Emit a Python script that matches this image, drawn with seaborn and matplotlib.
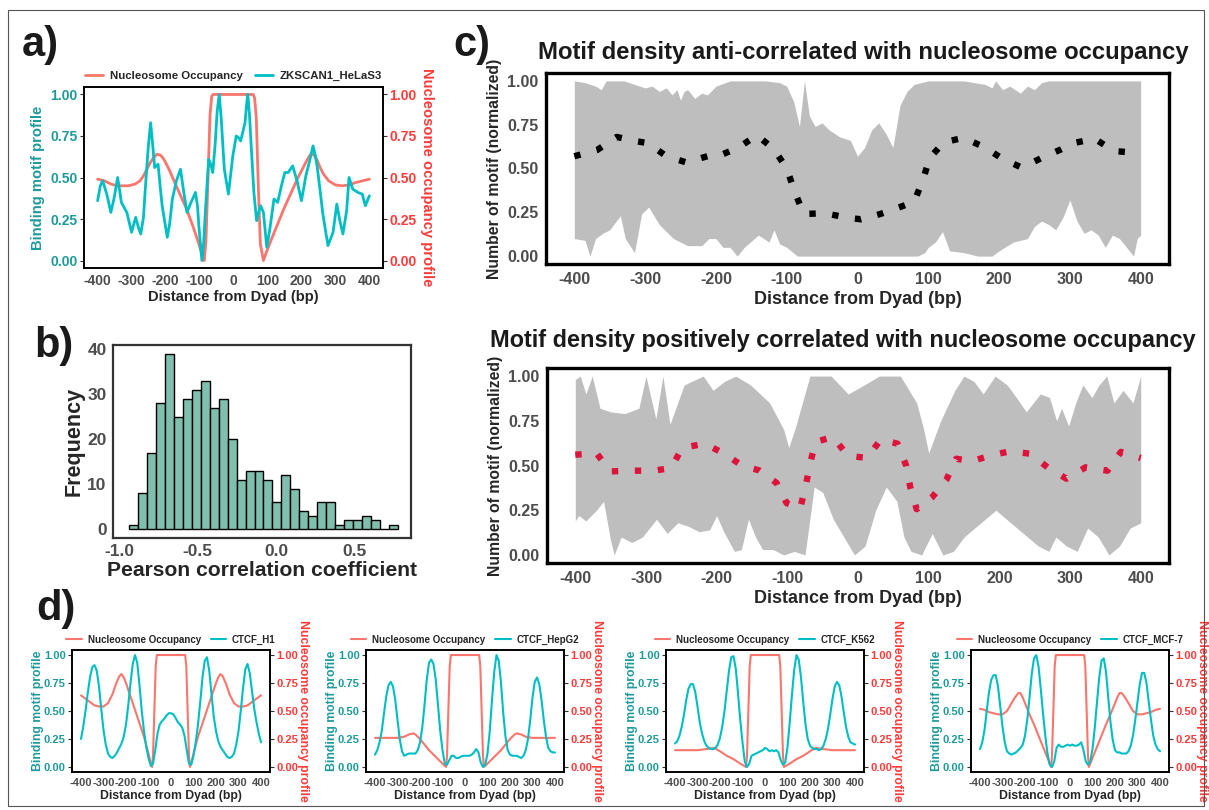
import numpy as np
import pandas as pd
import matplotlib
matplotlib.use('Agg')
import matplotlib.pyplot as plt
import seaborn as sns
from matplotlib.patches import Rectangle
from matplotlib.lines import Line2D

# ---------------- data ----------------
# panel a: ZKSCAN1_HeLaS3
a_nuc_x = [-400, -380, -360, -340, -310, -290, -275, -265, -255, -245, -235, -225, -215, -205, -190,
           -175, -160, -140, -120, -105, -95, -86, -81, -75, -69, -64, -60, 58, 62, 67, 73, 79, 88,
           95, 110, 130, 150, 170, 190, 205, 215, 225, 235, 245, 255, 265, 280, 300, 320, 340, 360,
           380, 400]
a_nuc_y = [0.49, 0.48, 0.46, 0.45, 0.45, 0.46, 0.48, 0.51, 0.55, 0.59, 0.62, 0.64, 0.635, 0.61,
           0.55, 0.48, 0.41, 0.32, 0.21, 0.12, 0.05, 0.0, 0.12, 0.5, 0.88, 0.99, 1.0, 1.0, 0.98,
           0.86, 0.45, 0.1, 0.0, 0.04, 0.12, 0.22, 0.32, 0.41, 0.50, 0.56, 0.60, 0.635, 0.64, 0.61,
           0.56, 0.52, 0.48, 0.455, 0.45, 0.455, 0.47, 0.48, 0.49]
a_mot_x = [-400, -392, -385, -373, -361, -351, -341, -335, -330, -314, -300, -288, -280, -273, -265,
           -259, -251, -244, -238, -232, -222, -216, -210, -195, -188, -180, -168, -156, -147, -137,
           -125, -112, -106, -102, -93, -88, -83, -73, -67, -61, -54, -48, -42, -36, -27, -15, -2,
           8, 15, 21, 34, 38, 42, 47, 51, 60, 68, 74, 80, 88, 98, 107, 119, 130, 141, 151, 161, 174,
           187, 200, 213, 224, 234, 240, 246, 255, 263, 278, 293, 304, 314, 322, 333, 340, 351, 366,
           379, 388, 400]
a_mot_y = [0.36, 0.45, 0.48, 0.40, 0.29, 0.38, 0.50, 0.42, 0.35, 0.29, 0.17, 0.26, 0.20, 0.16, 0.26,
           0.45, 0.68, 0.83, 0.70, 0.56, 0.58, 0.45, 0.33, 0.14, 0.22, 0.37, 0.48, 0.55, 0.42, 0.29,
           0.35, 0.41, 0.33, 0.21, 0.0, 0.10, 0.29, 0.61, 0.58, 0.53, 0.70, 0.90, 1.0, 0.85, 0.55,
           0.40, 0.63, 0.75, 0.74, 0.72, 0.83, 0.93, 1.0, 0.88, 0.73, 0.41, 0.24, 0.29, 0.33, 0.29,
           0.08, 0.19, 0.37, 0.35, 0.45, 0.53, 0.53, 0.57, 0.48, 0.36, 0.51, 0.60, 0.69, 0.64, 0.57,
           0.42, 0.28, 0.09, 0.17, 0.34, 0.23, 0.16, 0.30, 0.50, 0.43, 0.41, 0.40, 0.33, 0.39]

# panel b: histogram of Pearson correlation coefficients
hist_start = -0.937
hist_width = 0.0571
hist_counts = [1, 8, 17, 28, 39, 25, 29, 31, 33, 27, 29, 20, 11, 13, 13, 11, 6, 12, 9, 4, 3, 6, 6,
               1, 2, 2, 3, 2, 0, 1]

# panel c top: anti-correlated
c1_mean_x = [-400, -368, -340, -312, -296, -270, -242, -212, -197, -168, -142, -118, -100, -88, -76,
             -46, -16, 5, 32, 60, 80, 92, 102, 122, 150, 180, 205, 232, 260, 288, 305, 335, 362, 392,
             400]
c1_mean_y = [0.57, 0.605, 0.68, 0.655, 0.645, 0.57, 0.535, 0.57, 0.57, 0.62, 0.69, 0.61, 0.50, 0.36,
             0.24, 0.245, 0.22, 0.21, 0.24, 0.28, 0.31, 0.43, 0.56, 0.65, 0.675, 0.62, 0.555, 0.505,
             0.56, 0.61, 0.645, 0.67, 0.60, 0.59, 0.585]
c1_up_x = [-400, -385, -370, -362, -355, -330, -315, -300, -290, -280, -270, -262, -255, -250, -245,
           -240, -230, -220, -212, -200, -180, -130, -110, -100, -90, -82, -75, -68, -60, -50, -40,
           -25, -10, 0, 10, 20, 30, 40, 50, 60, 70, 80, 100, 150, 180, 190, 195, 205, 215, 230, 240,
           250, 260, 270, 300, 400]
c1_up_y = [1.0, 0.99, 0.97, 0.95, 1.0, 1.0, 0.98, 0.96, 0.97, 0.94, 0.96, 0.92, 0.95, 0.89, 0.94,
           0.95, 0.90, 0.93, 0.92, 0.97, 1.0, 1.0, 0.99, 0.97, 0.88, 0.74, 1.0, 0.80, 0.74, 0.76,
           0.72, 0.68, 0.66, 0.57, 0.62, 0.72, 0.76, 0.70, 0.62, 0.86, 0.94, 0.98, 1.0, 1.0, 0.98,
           0.96, 1.0, 0.95, 0.97, 0.93, 0.97, 0.95, 0.99, 1.0, 1.0, 1.0]
c1_lo_x = [-400, -385, -378, -370, -360, -350, -335, -328, -315, -305, -295, -280, -260, -240, -220,
           -210, -200, -190, -180, -170, -160, -140, -125, -118, -110, -100, -85, 0, 85, 95, 100,
           110, 120, 130, 150, 170, 190, 200, 220, 240, 250, 260, 270, 280, 290, 300, 310, 320, 330,
           340, 350, 360, 370, 380, 390, 395, 400]
c1_lo_y = [0.10, 0.09, 0.0, 0.10, 0.13, 0.15, 0.23, 0.10, 0.02, 0.24, 0.28, 0.18, 0.10, 0.06, 0.06,
           0.10, 0.10, 0.05, 0.05, 0.0, 0.05, 0.12, 0.08, 0.15, 0.07, 0.05, 0.0, 0.0, 0.0, 0.02,
           0.05, 0.08, 0.14, 0.03, 0.02, 0.0, 0.0, 0.03, 0.08, 0.10, 0.17, 0.20, 0.18, 0.15, 0.22,
           0.32, 0.20, 0.13, 0.15, 0.12, 0.05, 0.12, 0.10, 0.05, 0.0, 0.10, 0.12]

# panel c bottom: positively correlated
c2_mean_x = [-400, -370, -351, -319, -289, -264, -249, -217, -189, -164, -140, -115, -101, -82, -74,
             -68, -60, -35, -15, 13, 32, 56, 68, 74, 83, 105, 125, 139, 160, 187, 214, 244, 268, 295,
             322, 353, 372, 400]
c2_mean_y = [0.56, 0.57, 0.467, 0.471, 0.471, 0.486, 0.598, 0.622, 0.566, 0.499, 0.473, 0.402, 0.29,
             0.258, 0.383, 0.508, 0.632, 0.66, 0.555, 0.542, 0.645, 0.622, 0.501, 0.378, 0.256,
             0.323, 0.42, 0.538, 0.523, 0.555, 0.579, 0.566, 0.49, 0.426, 0.49, 0.471, 0.576, 0.542]
c2_up_x = [-400, -393, -385, -376, -365, -350, -330, -310, -300, -286, -276, -266, -246, -219, -205,
           -189, -173, -152, -125, -105, -98, -88, -68, -38, -14, 0, 30, 60, 83, 93, 100, 117, 137,
           150, 164, 177, 194, 211, 224, 238, 258, 271, 281, 288, 298, 308, 318, 331, 341, 352,
           362, 375, 389, 400]
c2_up_y = [0.98, 1.0, 0.90, 1.0, 0.82, 0.80, 0.79, 0.82, 1.0, 0.76, 1.0, 0.73, 0.95, 1.0, 0.92,
           0.97, 1.0, 0.95, 0.85, 0.70, 0.60, 0.72, 1.0, 1.0, 0.90, 0.93, 1.0, 1.0, 0.85, 0.70,
           0.57, 0.75, 0.92, 1.0, 0.97, 0.90, 1.0, 0.95, 0.88, 0.80, 0.90, 0.88, 0.75, 0.82, 0.72,
           0.85, 0.95, 0.88, 0.95, 1.0, 0.85, 0.92, 0.85, 1.0]
c2_lo_x = [-400, -395, -385, -370, -360, -350, -345, -335, -320, -305, -295, -285, -270, -255, -240,
           -225, -210, -200, -190, -175, -165, -155, -145, -135, -120, -105, -90, -75, -62, -50,
           -35, -20, -5, 10, 25, 40, 55, 65, 75, 90, 105, 120, 135, 150, 165, 180, 195, 210, 225,
           240, 255, 270, 280, 295, 310, 325, 340, 355, 370, 385, 400]
c2_lo_y = [0.19, 0.22, 0.19, 0.25, 0.30, 0.08, 0.0, 0.10, 0.07, 0.10, 0.15, 0.20, 0.12, 0.18, 0.16,
           0.13, 0.14, 0.22, 0.13, 0.02, 0.03, 0.20, 0.10, 0.03, 0.03, 0.0, 0.02, 0.0, 0.38, 0.35,
           0.20, 0.10, 0.0, 0.05, 0.25, 0.38, 0.30, 0.10, 0.02, 0.0, 0.12, 0.0, 0.02, 0.10, 0.15,
           0.20, 0.25, 0.20, 0.15, 0.10, 0.05, 0.02, 0.10, 0.05, 0.02, 0.15, 0.10, 0.0, 0.05, 0.15,
           0.18]

# panel d: CTCF in four cell lines, motif profiles read every 10 bp from -400 to 400
d_names = ['CTCF_H1', 'CTCF_HepG2', 'CTCF_K562', 'CTCF_MCF-7']
d_grid = list(range(-400, 401, 10))
d_mot_y = [
    [0.25, 0.36, 0.50, 0.66, 0.80, 0.89, 0.91, 0.86, 0.72, 0.52, 0.33, 0.20, 0.12, 0.09, 0.08, 0.10,
     0.13, 0.17, 0.21, 0.27, 0.38, 0.55, 0.75, 0.92, 1.00, 0.93, 0.73, 0.50, 0.32, 0.18, 0.08, 0.01,
     0.03, 0.15, 0.30, 0.38, 0.41, 0.43, 0.46, 0.48, 0.48, 0.47, 0.44, 0.40, 0.38, 0.35, 0.28, 0.15,
     0.03, 0.02, 0.10, 0.22, 0.38, 0.58, 0.80, 0.95, 0.98, 0.86, 0.65, 0.45, 0.32, 0.23, 0.18, 0.15,
     0.12, 0.09, 0.08, 0.09, 0.12, 0.20, 0.32, 0.50, 0.70, 0.87, 0.92, 0.84, 0.68, 0.52, 0.40, 0.30,
     0.22],
    [0.11, 0.15, 0.22, 0.32, 0.48, 0.63, 0.73, 0.76, 0.72, 0.60, 0.42, 0.25, 0.14, 0.10, 0.11, 0.12,
     0.12, 0.12, 0.12, 0.15, 0.22, 0.35, 0.55, 0.78, 0.93, 0.96, 0.92, 0.78, 0.55, 0.32, 0.15, 0.03,
     0.02, 0.06, 0.10, 0.10, 0.08, 0.08, 0.09, 0.10, 0.10, 0.10, 0.10, 0.11, 0.13, 0.16, 0.13, 0.04,
     0.0, 0.02, 0.12, 0.32, 0.60, 0.85, 1.00, 0.95, 0.75, 0.48, 0.27, 0.15, 0.11, 0.10, 0.10, 0.10,
     0.09, 0.08, 0.10, 0.15, 0.25, 0.42, 0.62, 0.76, 0.80, 0.74, 0.60, 0.42, 0.27, 0.17, 0.14, 0.13,
     0.13],
    [0.21, 0.23, 0.28, 0.36, 0.47, 0.60, 0.70, 0.74, 0.74, 0.67, 0.54, 0.40, 0.30, 0.23, 0.19, 0.17,
     0.16, 0.16, 0.17, 0.20, 0.26, 0.36, 0.50, 0.68, 0.86, 0.98, 0.99, 0.88, 0.66, 0.42, 0.22, 0.05,
     0.0, 0.03, 0.10, 0.11, 0.12, 0.13, 0.14, 0.15, 0.17, 0.16, 0.14, 0.15, 0.14, 0.15, 0.13, 0.06,
     0.02, 0.04, 0.18, 0.40, 0.65, 0.87, 1.00, 0.96, 0.80, 0.58, 0.38, 0.25, 0.19, 0.17, 0.16, 0.16,
     0.15, 0.16, 0.19, 0.25, 0.34, 0.47, 0.61, 0.72, 0.76, 0.73, 0.63, 0.49, 0.36, 0.27, 0.22, 0.21,
     0.20],
    [0.16, 0.22, 0.33, 0.50, 0.67, 0.78, 0.82, 0.82, 0.72, 0.54, 0.36, 0.22, 0.14, 0.12, 0.11, 0.12,
     0.13, 0.15, 0.17, 0.20, 0.28, 0.42, 0.62, 0.83, 0.97, 1.00, 0.90, 0.70, 0.48, 0.28, 0.12, 0.02,
     0.0, 0.05, 0.17, 0.20, 0.18, 0.18, 0.19, 0.20, 0.19, 0.20, 0.19, 0.19, 0.20, 0.22, 0.15, 0.05,
     0.02, 0.05, 0.16, 0.35, 0.58, 0.80, 0.95, 0.97, 0.85, 0.62, 0.40, 0.24, 0.15, 0.13, 0.13, 0.12,
     0.12, 0.12, 0.14, 0.19, 0.28, 0.42, 0.58, 0.74, 0.84, 0.84, 0.75, 0.58, 0.42, 0.28, 0.20, 0.16,
     0.14],
]
d_nuc_x = [
    [-400, -380, -360, -340, -320, -300, -280, -260, -245, -230, -220, -210, -200, -180, -160, -140,
     -120, -100, -92, -84, -80, -74, -68, -63, 63, 68, 74, 80, 84, 92, 100, 120, 140, 160, 180,
     200, 210, 220, 230, 245, 260, 280, 300, 320, 340, 360, 380, 400],
    [-400, -300, -270, -250, -230, -220, -200, -180, -160, -140, -120, -100, -84, -80, -74, -68,
     -63, 63, 68, 74, 80, 84, 100, 120, 140, 160, 180, 200, 220, 230, 250, 270, 300, 400],
    [-400, -300, -260, -225, -200, -170, -140, -110, -84, -80, -74, -68, -63, 63, 68, 74, 80, 84,
     110, 140, 170, 200, 225, 260, 300, 400],
    [-400, -380, -360, -340, -320, -300, -280, -260, -245, -230, -220, -210, -200, -180, -160, -140,
     -120, -100, -84, -80, -74, -68, -63, 63, 68, 74, 80, 84, 100, 120, 140, 160, 180, 200, 210,
     220, 230, 245, 260, 280, 300, 320, 340, 360, 380, 400],
]
d_nuc_y = [
    [0.64, 0.61, 0.58, 0.55, 0.54, 0.54, 0.57, 0.65, 0.74, 0.81, 0.83, 0.80, 0.75, 0.63, 0.51, 0.39,
     0.27, 0.12, 0.05, 0.0, 0.1, 0.5, 0.9, 1.0, 1.0, 0.9, 0.5, 0.1, 0.0, 0.05, 0.12, 0.27, 0.39,
     0.51, 0.63, 0.75, 0.80, 0.83, 0.81, 0.74, 0.65, 0.57, 0.54, 0.54, 0.55, 0.58, 0.61, 0.64],
    [0.26, 0.26, 0.27, 0.29, 0.30, 0.29, 0.25, 0.20, 0.15, 0.11, 0.07, 0.03, 0.0, 0.1, 0.5, 0.9,
     1.0, 1.0, 0.9, 0.5, 0.1, 0.0, 0.03, 0.07, 0.11, 0.15, 0.20, 0.25, 0.29, 0.30, 0.29, 0.27,
     0.26, 0.26],
    [0.15, 0.15, 0.16, 0.17, 0.14, 0.10, 0.07, 0.03, 0.0, 0.1, 0.5, 0.9, 1.0, 1.0, 0.9, 0.5, 0.1,
     0.0, 0.03, 0.07, 0.10, 0.14, 0.17, 0.16, 0.15, 0.15],
    [0.52, 0.51, 0.49, 0.48, 0.47, 0.47, 0.50, 0.57, 0.62, 0.66, 0.66, 0.62, 0.57, 0.47, 0.38, 0.28,
     0.18, 0.08, 0.0, 0.1, 0.5, 0.9, 1.0, 1.0, 0.9, 0.5, 0.1, 0.0, 0.08, 0.18, 0.28, 0.38, 0.47,
     0.57, 0.62, 0.66, 0.66, 0.62, 0.57, 0.50, 0.47, 0.47, 0.48, 0.49, 0.51, 0.52],
]

dist_ticks = [-400, -300, -200, -100, 0, 100, 200, 300, 400]
occ_ticks = [0.0, 0.25, 0.5, 0.75, 1.0]
occ_labels = ['0.00', '0.25', '0.50', '0.75', '1.00']

# ---------------- style ----------------
RED = '#F8766D'
TEAL = '#00BFC4'
TEAL_TXT = '#1E9A9A'
RED_TXT = '#FF3A3A'
GREY_TXT = '#4D4D4D'
HIST_FILL = '#7FBFAE'
RIBBON = '#BEBEBE'
CRIMSON = '#DC143C'

sns.set_style('white')
plt.rcParams['font.family'] = ['Liberation Sans', 'DejaVu Sans']
plt.rcParams['font.weight'] = 'bold'
plt.rcParams['axes.labelweight'] = 'bold'

W, H = 1209, 810
fig = plt.figure(figsize=(W / 100, H / 100), dpi=100)


def add_px(x0, y0, x1, y1):
    return fig.add_axes([x0 / W, 1 - y1 / H, (x1 - x0) / W, (y1 - y0) / H])


def frame(ax, lw, color='black'):
    for s in ax.spines.values():
        s.set_visible(True)
        s.set_linewidth(lw)
        s.set_color(color)


def profile_panel(ax, nx, ny, mx, my, name, tick_fs, lab_fs, leg_fs, lw, lx, rx):
    sns.lineplot(x=nx, y=ny, ax=ax, color=RED, linewidth=lw, sort=False)
    sns.lineplot(x=mx, y=my, ax=ax, color=TEAL, linewidth=lw, sort=False)
    ax.set_xlim(-440, 440)
    ax.set_ylim(-0.045, 1.045)
    ax.set_xticks(dist_ticks)
    ax.set_xticklabels([str(t) for t in dist_ticks], fontsize=tick_fs, color=GREY_TXT,
                       fontweight='bold')
    ax.set_yticks(occ_ticks)
    ax.set_yticklabels(occ_labels, fontsize=tick_fs, color=TEAL_TXT, fontweight='bold')
    ax.tick_params(length=3, width=0.8, color='#333333', pad=1.5)
    ax.set_xlabel('Distance from Dyad (bp)', fontsize=lab_fs, fontweight='bold', labelpad=1)
    ax.set_ylabel('Binding motif profile', fontsize=lab_fs, fontweight='bold', color=TEAL_TXT)
    ax.yaxis.set_label_coords(lx, 0.5)
    ax.yaxis.label.set_va('center')
    ax.yaxis.label.set_ha('center')
    frame(ax, 1.2)
    ax2 = ax.twinx()
    ax2.set_ylim(-0.045, 1.045)
    ax2.set_yticks(occ_ticks)
    ax2.set_yticklabels(occ_labels, fontsize=tick_fs, color=RED_TXT, fontweight='bold')
    ax2.tick_params(length=3, width=0.8, color='#333333', pad=1.5)
    ax2.set_ylabel('Nucleosome occupancy profile', fontsize=lab_fs, fontweight='bold',
                   color=RED_TXT, rotation=270)
    ax2.yaxis.set_label_coords(rx, 0.5)
    ax2.yaxis.label.set_va('center')
    ax2.yaxis.label.set_ha('center')
    frame(ax2, 1.2)
    handles = [Line2D([], [], color=RED, lw=lw), Line2D([], [], color=TEAL, lw=lw)]
    ax.legend(handles, ['Nucleosome Occupancy', name], loc='lower center',
              bbox_to_anchor=(0.5, 1.0), ncol=2, frameon=False,
              handlelength=1.6, columnspacing=1.0, handletextpad=0.6, borderaxespad=0.15,
              prop={'weight': 'bold', 'size': leg_fs})


# ---------------- panel a ----------------
ax_a = add_px(84, 87, 383, 268)
profile_panel(ax_a, a_nuc_x, a_nuc_y, a_mot_x, a_mot_y, 'ZKSCAN1_HeLaS3',
              10, 10.6, 8.2, 2.0, -0.155, 1.147)

# ---------------- panel b ----------------
ax_b = add_px(113, 345, 411, 538)
centers = hist_start + hist_width * (np.arange(len(hist_counts)) + 0.5)
hist_df = pd.DataFrame({'r': centers, 'n': hist_counts})
sns.histplot(data=hist_df, x='r', weights='n', binwidth=hist_width,
             binrange=(hist_start, hist_start + hist_width * len(hist_counts)), ax=ax_b,
             color=HIST_FILL, edgecolor='black', linewidth=1.0, alpha=1)
ax_b.set_xlim(-1.04, 0.86)
ax_b.set_ylim(-1.95, 40.95)
ax_b.set_xticks([-1.0, -0.5, 0.0, 0.5])
ax_b.set_xticklabels(['-1.0', '-0.5', '0.0', '0.5'], fontsize=12.5, color=GREY_TXT,
                     fontweight='bold')
ax_b.set_yticks([0, 10, 20, 30, 40])
ax_b.set_yticklabels(['0', '10', '20', '30', '40'], fontsize=12.5, color=GREY_TXT,
                     fontweight='bold')
ax_b.tick_params(length=3, width=0.8, color='#333333', pad=1.5)
ax_b.set_xlabel('Pearson correlation coefficient', fontsize=15.2, fontweight='bold', labelpad=1)
ax_b.set_ylabel('Frequency', fontsize=15.5, fontweight='bold', labelpad=2)
frame(ax_b, 1.6, '#333333')


# ---------------- panel c ----------------
def motif_panel(ax, ux, uy, lx, ly, mx, my, color):
    grid = np.union1d(ux, lx)
    upper = np.interp(grid, ux, uy)
    lower = np.interp(grid, lx, ly)
    ax.fill_between(grid, lower, upper, color=RIBBON, linewidth=0)
    sns.lineplot(x=mx, y=my, ax=ax, color=color, linewidth=4.6, sort=False)
    ax.lines[-1].set_linestyle((0, (1, 2.6)))
    ax.lines[-1].set_dash_capstyle('butt')
    ax.set_xlim(-440, 440)
    ax.set_ylim(-0.045, 1.045)
    ax.set_xticks(dist_ticks)
    ax.set_xticklabels([str(t) for t in dist_ticks], fontsize=11.5, color=GREY_TXT,
                       fontweight='bold')
    ax.set_yticks(occ_ticks)
    ax.set_yticklabels(occ_labels, fontsize=11.5, color=GREY_TXT, fontweight='bold')
    ax.tick_params(length=3.5, width=0.9, color='#333333', pad=2)
    ax.set_xlabel('Distance from Dyad (bp)', fontsize=13, fontweight='bold', labelpad=3)
    ax.set_ylabel('Number of motif (normalized)', fontsize=11.3, fontweight='bold', labelpad=4)
    frame(ax, 2.4)


ax_c1 = add_px(546, 73, 1169, 264)
motif_panel(ax_c1, c1_up_x, c1_up_y, c1_lo_x, c1_lo_y, c1_mean_x, c1_mean_y, 'black')
ax_c2 = add_px(547, 368, 1169, 563)
motif_panel(ax_c2, c2_up_x, c2_up_y, c2_lo_x, c2_lo_y, c2_mean_x, c2_mean_y, CRIMSON)
fig.text(863 / W, 1 - 52 / H, 'Motif density anti-correlated with nucleosome occupancy',
         fontsize=17.2, fontweight='bold', ha='center', va='center', color='#1A1A1A')
fig.text(843 / W, 1 - 341 / H, 'Motif density positively correlated with nucleosome occupancy',
         fontsize=16.9, fontweight='bold', ha='center', va='center', color='#1A1A1A')

# ---------------- panel d ----------------
d_boxes = [(72, 650, 270, 772), (366, 650, 564, 772), (666, 650, 864, 772), (971, 650, 1169, 772)]
for i, box in enumerate(d_boxes):
    ax_d = add_px(*box)
    profile_panel(ax_d, d_nuc_x[i], d_nuc_y[i], d_grid, d_mot_y[i], d_names[i],
                  8, 8.8, 7.0, 1.5, -0.17, 1.165)

# ---------------- panel letters and outer frame ----------------
for lab, x, y in [('a)', 22, 45), ('b)', 34, 346), ('c)', 453, 45), ('d)', 36, 609)]:
    fig.text(x / W, 1 - y / H, lab, fontsize=30, fontweight='bold', va='center', ha='left',
             color='#1A1A1A')

fig.patches.append(Rectangle((8 / W, 1 - 806 / H), 1196 / W, 796 / H, transform=fig.transFigure,
                             fill=False, edgecolor='#555555', linewidth=0.8))

fig.savefig('out.png', dpi=100)
